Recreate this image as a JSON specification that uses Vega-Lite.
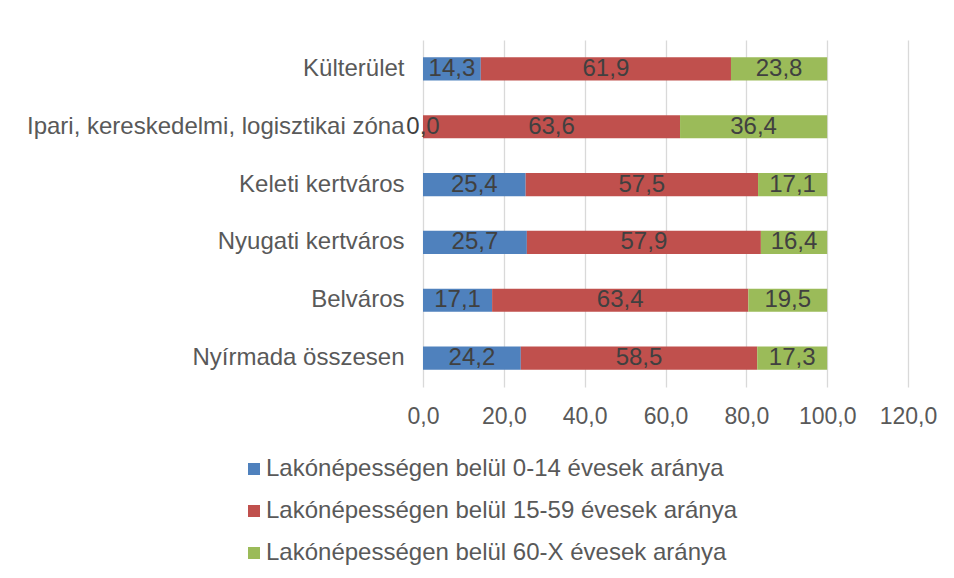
{
  "$schema": "https://vega.github.io/schema/vega-lite/v6.json",
  "width": 485,
  "height": 347,
  "autosize": {"type": "none"},
  "padding": {"left": 423, "top": 40, "right": 46, "bottom": 191},
  "background": "#ffffff",
  "config": {
    "view": {"stroke": null},
    "font": "Liberation Sans",
    "locale": {"number": {"decimal": ",", "thousands": " ", "grouping": [3], "currency": ["", " Ft"]}}
  },
  "data": {
    "values": [
      {"terulet": "Külterület", "csoport": "Lakónépességen belül 0-14 évesek aránya", "arany": 14.3},
      {"terulet": "Külterület", "csoport": "Lakónépességen belül 15-59 évesek aránya", "arany": 61.9},
      {"terulet": "Külterület", "csoport": "Lakónépességen belül 60-X évesek aránya", "arany": 23.8},
      {"terulet": "Ipari, kereskedelmi, logisztikai zóna", "csoport": "Lakónépességen belül 0-14 évesek aránya", "arany": 0.0},
      {"terulet": "Ipari, kereskedelmi, logisztikai zóna", "csoport": "Lakónépességen belül 15-59 évesek aránya", "arany": 63.6},
      {"terulet": "Ipari, kereskedelmi, logisztikai zóna", "csoport": "Lakónépességen belül 60-X évesek aránya", "arany": 36.4},
      {"terulet": "Keleti kertváros", "csoport": "Lakónépességen belül 0-14 évesek aránya", "arany": 25.4},
      {"terulet": "Keleti kertváros", "csoport": "Lakónépességen belül 15-59 évesek aránya", "arany": 57.5},
      {"terulet": "Keleti kertváros", "csoport": "Lakónépességen belül 60-X évesek aránya", "arany": 17.1},
      {"terulet": "Nyugati kertváros", "csoport": "Lakónépességen belül 0-14 évesek aránya", "arany": 25.7},
      {"terulet": "Nyugati kertváros", "csoport": "Lakónépességen belül 15-59 évesek aránya", "arany": 57.9},
      {"terulet": "Nyugati kertváros", "csoport": "Lakónépességen belül 60-X évesek aránya", "arany": 16.4},
      {"terulet": "Belváros", "csoport": "Lakónépességen belül 0-14 évesek aránya", "arany": 17.1},
      {"terulet": "Belváros", "csoport": "Lakónépességen belül 15-59 évesek aránya", "arany": 63.4},
      {"terulet": "Belváros", "csoport": "Lakónépességen belül 60-X évesek aránya", "arany": 19.5},
      {"terulet": "Nyírmada összesen", "csoport": "Lakónépességen belül 0-14 évesek aránya", "arany": 24.2},
      {"terulet": "Nyírmada összesen", "csoport": "Lakónépességen belül 15-59 évesek aránya", "arany": 58.5},
      {"terulet": "Nyírmada összesen", "csoport": "Lakónépességen belül 60-X évesek aránya", "arany": 17.3}
    ]
  },
  "encoding": {
    "y": {
      "field": "terulet",
      "type": "nominal",
      "sort": null,
      "scale": {"paddingInner": 0.6, "paddingOuter": 0.3},
      "axis": {
        "title": null,
        "ticks": false,
        "domain": false,
        "labelFontSize": 24,
        "labelColor": "#595959",
        "labelPadding": 19,
        "labelLimit": 500
      }
    },
    "order": {"field": "csoport", "sort": "ascending"}
  },
  "layer": [
    {
      "mark": {"type": "bar"},
      "encoding": {
        "x": {
          "field": "arany",
          "type": "quantitative",
          "stack": "zero",
          "scale": {"domain": [0, 120], "nice": false},
          "axis": {
            "title": null,
            "values": [0, 20, 40, 60, 80, 100, 120],
            "format": ".1f",
            "ticks": false,
            "domain": false,
            "grid": true,
            "gridColor": "#d9d9d9",
            "gridWidth": 1.3,
            "labelFontSize": 23,
            "labelColor": "#595959",
            "labelPadding": 18,
            "labelFlush": false,
            "labelOverlap": false
          }
        },
        "color": {
          "field": "csoport",
          "type": "nominal",
          "scale": {
            "domain": [
              "Lakónépességen belül 0-14 évesek aránya",
              "Lakónépességen belül 15-59 évesek aránya",
              "Lakónépességen belül 60-X évesek aránya"
            ],
            "range": ["#4f81bd", "#c0504d", "#9bbb59"]
          },
          "legend": {
            "title": null,
            "orient": "none",
            "legendX": -181,
            "legendY": 417,
            "direction": "vertical",
            "symbolType": "square",
            "symbolSize": 144,
            "symbolStrokeWidth": 0,
            "labelFontSize": 24,
            "labelColor": "#595959",
            "labelOffset": 0,
            "rowPadding": 18,
            "labelLimit": 700
          }
        }
      }
    },
    {
      "mark": {"type": "text", "fontSize": 24, "color": "#404040", "baseline": "middle", "align": "center"},
      "encoding": {
        "x": {"field": "arany", "type": "quantitative", "stack": "zero", "bandPosition": 0.5},
        "detail": {"field": "csoport"},
        "text": {"field": "arany", "type": "quantitative", "format": ".1f"}
      }
    }
  ]
}
